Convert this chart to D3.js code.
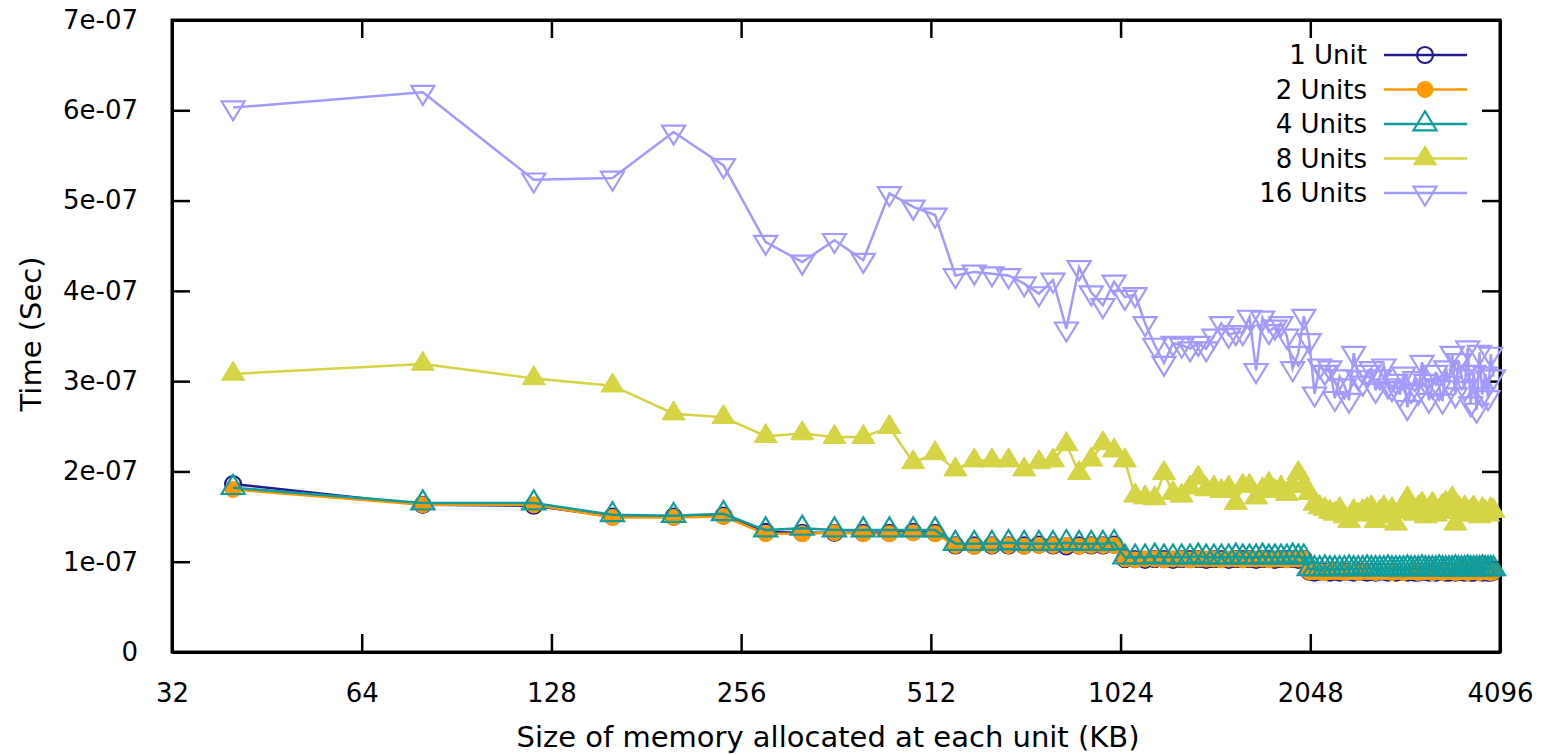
<!DOCTYPE html>
<html>
<head>
<meta charset="utf-8">
<script src="https://cdn.jsdelivr.net/npm/d3@7"></script>
<style>
  body { margin: 0; background: #fff; }
  text { font-family: "DejaVu Sans", sans-serif; fill: #000; }
</style>
</head>
<body>
<div id="chart-area"></div>
<script>
// memory size per unit (KB)
let sizes = [
    40, 80, 120, 160, 200, 240, 280, 320, 360, 400,
    440, 480, 520, 560, 600, 640, 680, 720, 760, 800,
    840, 880, 920, 960, 1000, 1040, 1080, 1120, 1160, 1200,
    1240, 1280, 1320, 1360, 1400, 1440, 1480, 1520, 1560, 1600,
    1640, 1680, 1720, 1760, 1800, 1840, 1880, 1920, 1960, 2000,
    2040, 2080, 2120, 2160, 2200, 2240, 2280, 2320, 2360, 2400,
    2440, 2480, 2520, 2560, 2600, 2640, 2680, 2720, 2760, 2800,
    2840, 2880, 2920, 2960, 3000, 3040, 3080, 3120, 3160, 3200,
    3240, 3280, 3320, 3360, 3400, 3440, 3480, 3520, 3560, 3600,
    3640, 3680, 3720, 3760, 3800, 3840, 3880, 3920, 3960, 4000
];

// times, in units of 1e-07 sec
let unit1 = [
    1.86, 1.63, 1.62, 1.50, 1.50, 1.51, 1.33, 1.32, 1.32, 1.32,
    1.32, 1.33, 1.32, 1.18, 1.18, 1.18, 1.18, 1.18, 1.19, 1.18,
    1.17, 1.18, 1.18, 1.18, 1.19, 1.03, 1.03, 1.02, 1.03, 1.03,
    1.02, 1.03, 1.03, 1.03, 1.02, 1.03, 1.03, 1.02, 1.03, 1.03,
    1.03, 1.02, 1.03, 1.03, 1.02, 1.03, 1.03, 1.03, 1.02, 1.03,
    0.89, 0.88, 0.89, 0.89, 0.88, 0.89, 0.88, 0.89, 0.89, 0.88,
    0.89, 0.89, 0.88, 0.89, 0.88, 0.89, 0.89, 0.88, 0.89, 0.88,
    0.89, 0.89, 0.88, 0.89, 0.88, 0.88, 0.89, 0.89, 0.88, 0.89,
    0.88, 0.89, 0.89, 0.88, 0.88, 0.89, 0.88, 0.89, 0.89, 0.88,
    0.89, 0.88, 0.88, 0.89, 0.89, 0.88, 0.89, 0.88, 0.88, 0.89
];
let unit2 = [
    1.80, 1.63, 1.63, 1.49, 1.49, 1.50, 1.31, 1.31, 1.32, 1.31,
    1.31, 1.32, 1.31, 1.18, 1.17, 1.18, 1.18, 1.17, 1.18, 1.18,
    1.18, 1.17, 1.18, 1.18, 1.18, 1.03, 1.02, 1.03, 1.03, 1.02,
    1.03, 1.03, 1.02, 1.03, 1.03, 1.03, 1.02, 1.03, 1.03, 1.02,
    1.03, 1.03, 1.03, 1.02, 1.03, 1.03, 1.02, 1.03, 1.03, 1.03,
    0.89, 0.89, 0.89, 0.88, 0.89, 0.89, 0.89, 0.88, 0.89, 0.89,
    0.88, 0.89, 0.89, 0.89, 0.88, 0.89, 0.89, 0.89, 0.88, 0.89,
    0.89, 0.88, 0.89, 0.89, 0.89, 0.88, 0.89, 0.89, 0.89, 0.88,
    0.89, 0.89, 0.88, 0.89, 0.89, 0.89, 0.88, 0.89, 0.89, 0.89,
    0.88, 0.89, 0.89, 0.89, 0.88, 0.89, 0.89, 0.89, 0.88, 0.89
];
let unit4 = [
    1.82, 1.65, 1.65, 1.52, 1.51, 1.53, 1.35, 1.37, 1.35, 1.35,
    1.35, 1.35, 1.35, 1.20, 1.20, 1.20, 1.21, 1.20, 1.20, 1.20,
    1.21, 1.20, 1.20, 1.20, 1.21, 1.05, 1.05, 1.05, 1.06, 1.05,
    1.05, 1.05, 1.05, 1.06, 1.05, 1.05, 1.05, 1.05, 1.06, 1.05,
    1.05, 1.05, 1.06, 1.05, 1.05, 1.05, 1.05, 1.06, 1.05, 1.05,
    0.92, 0.92, 0.92, 0.93, 0.92, 0.92, 0.92, 0.92, 0.93, 0.92,
    0.92, 0.92, 0.93, 0.92, 0.92, 0.92, 0.92, 0.93, 0.92, 0.92,
    0.92, 0.92, 0.93, 0.92, 0.92, 0.92, 0.93, 0.92, 0.92, 0.92,
    0.92, 0.93, 0.92, 0.92, 0.92, 0.92, 0.93, 0.92, 0.92, 0.92,
    0.93, 0.92, 0.92, 0.92, 0.92, 0.93, 0.92, 0.92, 0.92, 0.92
];
let unit8 = [
    3.08, 3.19, 3.03, 2.95, 2.64, 2.60, 2.39, 2.42, 2.38, 2.38,
    2.49, 2.10, 2.20, 2.02, 2.12, 2.12, 2.12, 2.02, 2.10, 2.12,
    2.30, 1.98, 2.13, 2.31, 2.23, 2.12, 1.73, 1.71, 1.70, 1.98,
    1.76, 1.73, 1.82, 1.93, 1.80, 1.82, 1.78, 1.82, 1.65, 1.84,
    1.84, 1.71, 1.80, 1.86, 1.78, 1.82, 1.75, 1.84, 1.98, 1.84,
    1.76, 1.64, 1.60, 1.58, 1.55, 1.53, 1.58, 1.50, 1.45, 1.56,
    1.52, 1.56, 1.58, 1.60, 1.45, 1.55, 1.60, 1.50, 1.58, 1.42,
    1.55, 1.62, 1.70, 1.56, 1.53, 1.60, 1.64, 1.50, 1.58, 1.64,
    1.52, 1.55, 1.62, 1.65, 1.58, 1.70, 1.42, 1.60, 1.55, 1.60,
    1.52, 1.56, 1.60, 1.55, 1.50, 1.58, 1.55, 1.52, 1.58, 1.56
];
let unit16 = [
    6.03, 6.20, 5.23, 5.25, 5.76, 5.39, 4.54, 4.32, 4.56, 4.34,
    5.08, 4.93, 4.84, 4.17, 4.21, 4.19, 4.17, 4.08, 3.97, 4.12,
    3.58, 4.26, 3.98, 3.84, 4.10, 3.93, 3.96, 3.64, 3.40, 3.20,
    3.42, 3.40, 3.36, 3.42, 3.36, 3.50, 3.64, 3.51, 3.54, 3.54,
    3.71, 3.12, 3.70, 3.55, 3.60, 3.64, 3.50, 3.14, 3.31, 3.72,
    3.45, 2.86, 3.17, 3.10, 3.15, 2.81, 3.05, 2.95, 2.79, 3.31,
    3.04, 2.98, 3.10, 3.14, 2.90, 3.05, 3.17, 2.95, 2.92, 3.00,
    2.85, 3.08, 2.71, 2.90, 3.03, 2.88, 3.21, 3.00, 2.79, 2.95,
    3.10, 2.93, 2.78, 3.15, 2.98, 3.31, 2.85, 3.23, 3.05, 2.92,
    3.37, 2.75, 3.10, 2.68, 3.32, 2.85, 3.08, 2.82, 3.30, 3.05
];

let seriesNames = ["1 Unit", "2 Units", "4 Units", "8 Units", "16 Units"];
let xTicks = [32, 64, 128, 256, 512, 1024, 2048, 4096];
let yTicks = [0, 1, 2, 3, 4, 5, 6, 7];
let yTickLabels = ["0", "1e-07", "2e-07", "3e-07", "4e-07", "5e-07", "6e-07", "7e-07"];

let margin = {left: 172, right: 47, top: 20, bottom: 102};
let width = 1547 - margin.left - margin.right,
    height = 754 - margin.top - margin.bottom;

let svg = d3.select("#chart-area")
    .append("svg")
    .attr("width", 1547)
    .attr("height", 754)
    .append("g")
    .attr("transform", "translate(" + margin.left + ", " + margin.top + ")");

let x = d3.scaleLog().base(2).domain([32, 4096]).range([0, width]);
let y = d3.scaleLinear().domain([0, 7]).range([height, 0]);

// Axes, ticks pointing inward and mirrored
let tick = 18;
svg.append("g")
    .attr("class", "x axis")
    .attr("transform", "translate(0," + height + ")")
    .call(d3.axisBottom(x).tickValues(xTicks).tickSizeInner(-tick).tickSizeOuter(0)
        .tickPadding(tick + 14).tickFormat(d3.format("d")));
svg.append("g")
    .attr("class", "x2 axis")
    .call(d3.axisTop(x).tickValues(xTicks).tickSizeInner(-tick).tickSizeOuter(0).tickFormat(""));
svg.append("g")
    .attr("class", "y axis")
    .call(d3.axisLeft(y).tickValues(yTicks).tickSizeInner(-tick).tickSizeOuter(0)
        .tickPadding(tick + 16).tickFormat(function (d, i) { return yTickLabels[i]; }));
svg.append("g")
    .attr("class", "y2 axis")
    .attr("transform", "translate(" + width + ",0)")
    .call(d3.axisRight(y).tickValues(yTicks).tickSizeInner(-tick).tickSizeOuter(0).tickFormat(""));

svg.selectAll(".axis path").attr("stroke", "#000").attr("stroke-width", 3);
svg.selectAll(".axis line").attr("stroke", "#000").attr("stroke-width", 2.5);
svg.selectAll(".axis text").attr("font-size", "26px").attr("font-family", "DejaVu Sans");
svg.selectAll(".axis .tick text").attr("fill", "#000");

// Frame
svg.append("rect")
    .attr("width", width).attr("height", height)
    .attr("fill", "none").attr("stroke", "#000").attr("stroke-width", 3);

// Labels
svg.append("text")
    .attr("x", width / 2 - 8)
    .attr("y", height + 95)
    .attr("font-size", "29px")
    .attr("text-anchor", "middle")
    .text("Size of memory allocated at each unit (KB)");

svg.append("text")
    .attr("x", -(height / 2) + 2)
    .attr("y", -131)
    .attr("font-size", "29px")
    .attr("text-anchor", "middle")
    .attr("transform", "rotate(-90)")
    .text("Time (Sec)");

// Marker shapes
let triUp = "M0,-12.7L11.5,6.3L-11.5,6.3Z";
let triDown = "M0,12.7L11.5,-6.3L-11.5,-6.3Z";
let circle = d3.symbol().type(d3.symbolCircle).size(Math.PI * 64)();

let series = [
    {name: seriesNames[0], values: unit1, color: "#221a8e", shape: circle, filled: false},
    {name: seriesNames[1], values: unit2, color: "#ff9900", shape: circle, filled: true},
    {name: seriesNames[2], values: unit4, color: "#109c9c", shape: triUp, filled: false},
    {name: seriesNames[3], values: unit8, color: "#d4d444", shape: triUp, filled: true},
    {name: seriesNames[4], values: unit16, color: "#a29aff", shape: triDown, filled: false}
];

let line = d3.line()
    .x(function (d, i) { return x(sizes[i]); })
    .y(function (d) { return y(d); });

function drawMarker(g, s) {
    g.append("path")
        .attr("d", s.shape)
        .attr("fill", s.filled ? s.color : "none")
        .attr("stroke", s.color)
        .attr("stroke-width", s.filled ? 1 : 2.2);
}

series.forEach(function (s) {
    let g = svg.append("g");
    g.append("path")
        .datum(s.values)
        .attr("d", line)
        .attr("fill", "none")
        .attr("stroke", s.color)
        .attr("stroke-width", 2.5);
    g.selectAll(".pt")
        .data(s.values)
        .enter()
        .append("g")
        .attr("transform", function (d, i) {
            return "translate(" + x(sizes[i]) + "," + y(d) + ")";
        })
        .each(function () { drawMarker(d3.select(this), s); });
});

// Legend
let legend = svg.append("g")
    .attr("transform", "translate(" + (1367 - margin.left) + "," + (55 - margin.top) + ")");

series.forEach(function (s, i) {
    let row = legend.append("g").attr("transform", "translate(0," + (i * 34.5) + ")");
    row.append("text")
        .attr("x", 0)
        .attr("y", 0)
        .attr("dy", "0.35em")
        .attr("font-size", "26px")
        .attr("text-anchor", "end")
        .text(s.name);
    row.append("line")
        .attr("x1", 17).attr("x2", 100)
        .attr("stroke", s.color).attr("stroke-width", 2.5);
    let m = row.append("g").attr("transform", "translate(58,0)");
    drawMarker(m, s);
});
</script>
</body>
</html>
